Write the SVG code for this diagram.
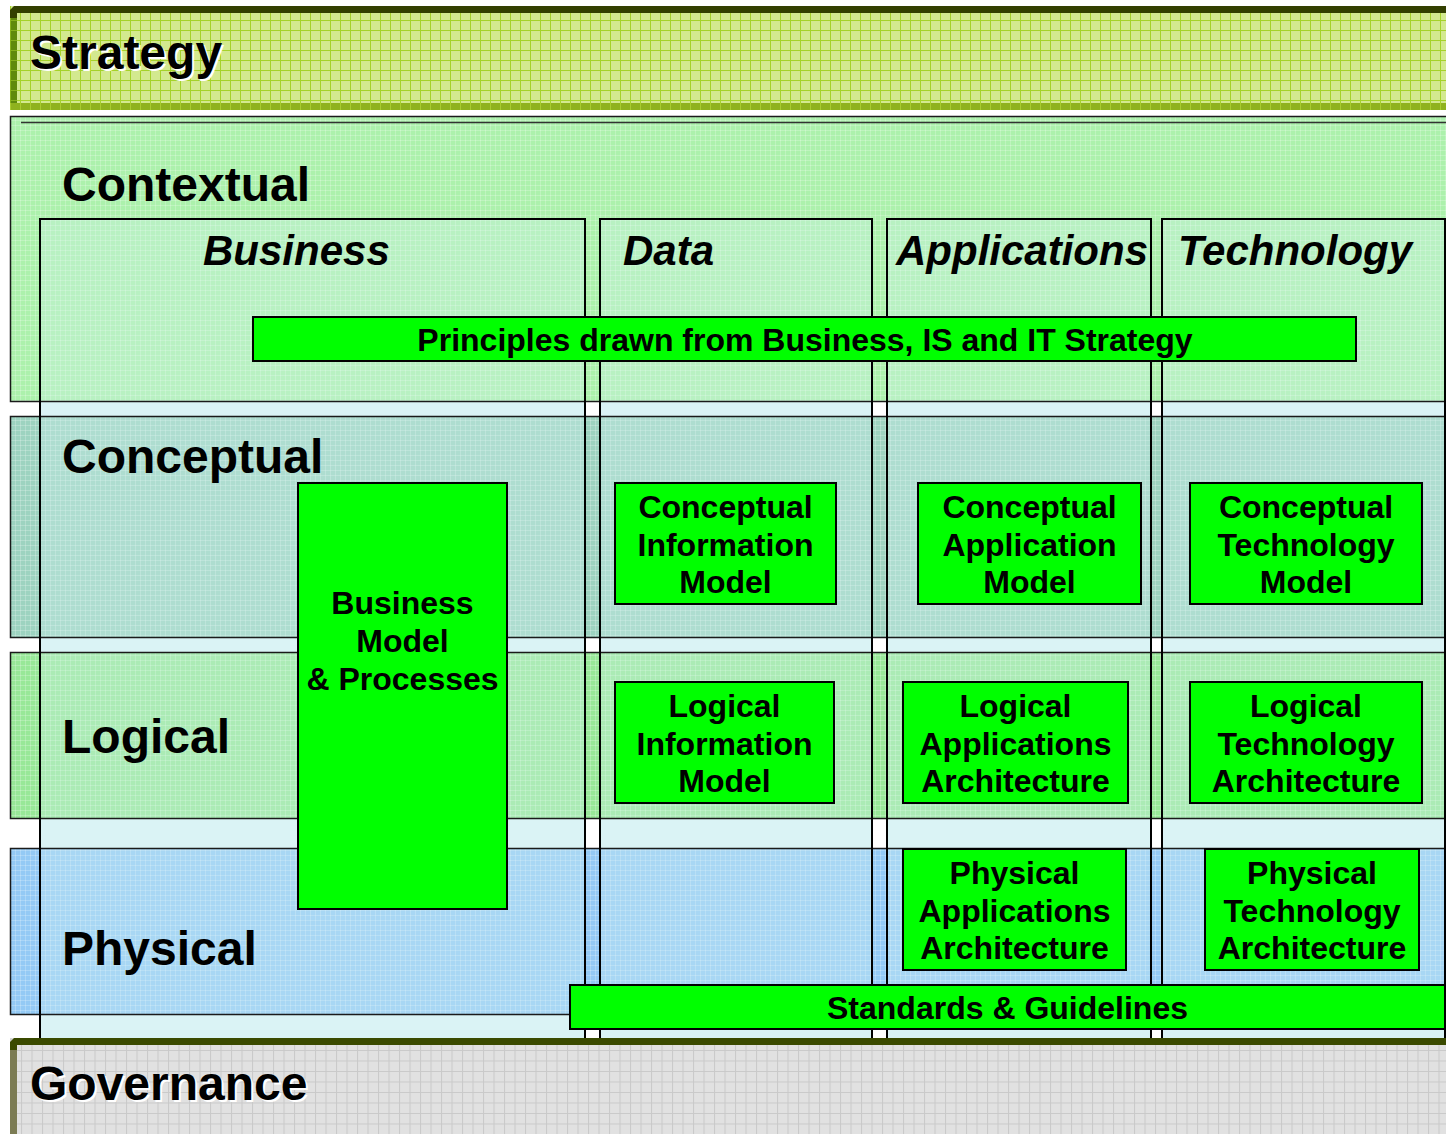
<svg xmlns="http://www.w3.org/2000/svg" width="1446" height="1134" viewBox="0 0 1446 1134">
<style>
.lbl{font-family:"Liberation Sans",Arial,sans-serif;font-weight:bold;font-size:48px;fill:#000}
.hdr{font-family:"Liberation Sans",Arial,sans-serif;font-weight:bold;font-style:italic;font-size:42px;fill:#000}
.box{fill:#00ff00;stroke:#000;stroke-width:2}
.bt{font-family:"Liberation Sans",Arial,sans-serif;font-weight:bold;font-size:32px;fill:#000;text-anchor:middle}
.shadow{fill:#fff}
.bandline{fill:none;stroke:#1a1a1a;stroke-width:1.5}
.colbase{fill:#ddf4f6;stroke:none}
.col{fill:#d4f2f4;fill-opacity:0.32;stroke:none}
.coll{fill:none;stroke:#000;stroke-width:2}
</style>
<defs>
<pattern id="gridS" width="10" height="10" patternUnits="userSpaceOnUse">
<rect width="10" height="10" fill="#d3e98f"/>
<path d="M0 0.5H10M0.5 0V10" stroke="#a5d22a" stroke-width="1"/>
</pattern>
<pattern id="gridSd" width="10" height="10" patternUnits="userSpaceOnUse">
<rect width="10" height="10" fill="#5f8a0c"/>
<path d="M0 0.5H10M0.5 0V10" stroke="#86b01c" stroke-width="1"/>
</pattern>
<pattern id="gridSb" width="10" height="10" patternUnits="userSpaceOnUse">
<rect width="10" height="10" fill="#8fb21e"/>
<path d="M0 0.5H10M0.5 0V10" stroke="#a8cc30" stroke-width="1"/>
</pattern>
<pattern id="gridG" width="10.5" height="10.5" patternUnits="userSpaceOnUse">
<rect width="10.5" height="10.5" fill="#e1e1e1"/>
<path d="M0 0.5H10.5M0.5 0V10.5" stroke="#c9c9c9" stroke-width="1"/>
</pattern>
<pattern id="fine" width="5" height="5" patternUnits="userSpaceOnUse">
<path d="M0 0.5H5M0.5 0V5" stroke="#ffffff" stroke-opacity="0.22" stroke-width="1"/>
</pattern>
<radialGradient id="glow" cx="0.5" cy="0" r="0.5">
<stop offset="0" stop-color="#c4ef7a"/>
<stop offset="1" stop-color="#ffffff" stop-opacity="0"/>
</radialGradient>
</defs>
<rect width="1446" height="1134" fill="#ffffff"/>
<ellipse cx="620" cy="0" rx="170" ry="9" fill="url(#glow)"/>

<g id="strategy">
<rect x="10" y="6" width="1436" height="104" fill="url(#gridS)"/>
<rect x="10" y="10" width="7" height="100" fill="url(#gridSd)"/>
<rect x="10" y="103" width="1436" height="7" fill="url(#gridSb)"/>
<path d="M14 6H1446V13H17V18H10V10Z" fill="#334000"/>
<text class="lbl shadow" x="32" y="71">Strategy</text>
<text class="lbl" x="30" y="69">Strategy</text>
</g>

<g id="column-bases">
<rect class="colbase" x="40" y="219" width="545" height="826"/>
<rect class="colbase" x="600" y="219" width="272" height="826"/>
<rect class="colbase" x="887" y="219" width="264" height="826"/>
<rect class="colbase" x="1162" y="219" width="283" height="826"/>
</g>

<g id="bands">
<g id="contextual-band">
<rect x="10.5" y="116.5" width="1450" height="285" fill="#acf1ac"/>
<rect x="10.5" y="116.5" width="1450" height="285" fill="url(#fine)"/>
</g>
<g id="conceptual-band">
<rect x="10.5" y="416.5" width="1450" height="221" fill="#9dd3c0"/>
<rect x="10.5" y="416.5" width="1450" height="221" fill="url(#fine)"/>
</g>
<g id="logical-band">
<rect x="10.5" y="652.5" width="1450" height="166" fill="#98e898"/>
<rect x="10.5" y="652.5" width="1450" height="166" fill="url(#fine)"/>
</g>
<g id="physical-band">
<rect x="10.5" y="848.5" width="1450" height="166" fill="#94caf5"/>
<rect x="10.5" y="848.5" width="1450" height="166" fill="url(#fine)"/>
</g>
</g>

<g id="columns">
<g id="col-business"><rect class="col" x="40" y="219" width="545" height="826"/></g>
<g id="col-data"><rect class="col" x="600" y="219" width="272" height="826"/></g>
<g id="col-applications"><rect class="col" x="887" y="219" width="264" height="826"/></g>
<g id="col-technology"><rect class="col" x="1162" y="219" width="283" height="826"/></g>
</g>

<g id="band-outlines">
<rect class="bandline" x="10.5" y="116.5" width="1450" height="285"/>
<path d="M21 122.5H1446" stroke="#333" stroke-width="1.5"/>
<rect class="bandline" x="10.5" y="416.5" width="1450" height="221"/>
<rect class="bandline" x="10.5" y="652.5" width="1450" height="166"/>
<rect class="bandline" x="10.5" y="848.5" width="1450" height="166"/>
</g>

<g id="column-outlines">
<rect class="coll" x="40" y="219" width="545" height="826"/>
<rect class="coll" x="600" y="219" width="272" height="826"/>
<rect class="coll" x="887" y="219" width="264" height="826"/>
<rect class="coll" x="1162" y="219" width="283" height="826"/>
</g>

<g id="governance">
<rect x="10" y="1038" width="1436" height="96" fill="url(#gridG)"/>
<rect x="10" y="1042" width="7" height="92" fill="#7c7c54"/>
<path d="M14 1038H1446V1045H17V1050H10V1042Z" fill="#3a4a00"/>
<text class="lbl shadow" x="32" y="1102">Governance</text>
<text class="lbl" x="30" y="1100">Governance</text>
</g>

<g id="labels">
<text class="lbl" x="62" y="201">Contextual</text>
<text class="lbl" x="62" y="473">Conceptual</text>
<text class="lbl" x="62" y="753">Logical</text>
<text class="lbl" x="62" y="965">Physical</text>
<text class="hdr" x="203" y="265">Business</text>
<text class="hdr" x="623" y="265">Data</text>
<text class="hdr" x="896" y="265">Applications</text>
<text class="hdr" x="1178" y="265">Technology</text>
</g>

<g id="principles">
<rect class="box" x="253" y="317" width="1103" height="44"/>
<text class="bt" x="805" y="351">Principles drawn from Business, IS and IT Strategy</text>
</g>

<g id="business-model">
<rect class="box" x="298" y="483" width="209" height="426"/>
<text class="bt" x="402.5" y="614">Business</text>
<text class="bt" x="402.5" y="652">Model</text>
<text class="bt" x="402.5" y="690">&amp; Processes</text>
</g>

<g id="conceptual-information-model">
<rect class="box" x="615" y="483" width="221" height="121"/>
<text class="bt" x="725.5" y="518">Conceptual</text>
<text class="bt" x="725.5" y="555.5">Information</text>
<text class="bt" x="725.5" y="593">Model</text>
</g>

<g id="conceptual-application-model">
<rect class="box" x="918" y="483" width="223" height="121"/>
<text class="bt" x="1029.5" y="518">Conceptual</text>
<text class="bt" x="1029.5" y="555.5">Application</text>
<text class="bt" x="1029.5" y="593">Model</text>
</g>

<g id="conceptual-technology-model">
<rect class="box" x="1190" y="483" width="232" height="121"/>
<text class="bt" x="1306" y="518">Conceptual</text>
<text class="bt" x="1306" y="555.5">Technology</text>
<text class="bt" x="1306" y="593">Model</text>
</g>

<g id="logical-information-model">
<rect class="box" x="615" y="682" width="219" height="121"/>
<text class="bt" x="724.5" y="717">Logical</text>
<text class="bt" x="724.5" y="754.5">Information</text>
<text class="bt" x="724.5" y="792">Model</text>
</g>

<g id="logical-applications-architecture">
<rect class="box" x="903" y="682" width="225" height="121"/>
<text class="bt" x="1015.5" y="717">Logical</text>
<text class="bt" x="1015.5" y="754.5">Applications</text>
<text class="bt" x="1015.5" y="792">Architecture</text>
</g>

<g id="logical-technology-architecture">
<rect class="box" x="1190" y="682" width="232" height="121"/>
<text class="bt" x="1306" y="717">Logical</text>
<text class="bt" x="1306" y="754.5">Technology</text>
<text class="bt" x="1306" y="792">Architecture</text>
</g>

<g id="physical-applications-architecture">
<rect class="box" x="903" y="849" width="223" height="121"/>
<text class="bt" x="1014.5" y="884">Physical</text>
<text class="bt" x="1014.5" y="921.5">Applications</text>
<text class="bt" x="1014.5" y="959">Architecture</text>
</g>

<g id="physical-technology-architecture">
<rect class="box" x="1205" y="849" width="214" height="121"/>
<text class="bt" x="1312" y="884">Physical</text>
<text class="bt" x="1312" y="921.5">Technology</text>
<text class="bt" x="1312" y="959">Architecture</text>
</g>

<g id="standards">
<rect class="box" x="570" y="985" width="875" height="44"/>
<text class="bt" x="1007.5" y="1018.5">Standards &amp; Guidelines</text>
</g>

<g id="connectors"/>
</svg>
